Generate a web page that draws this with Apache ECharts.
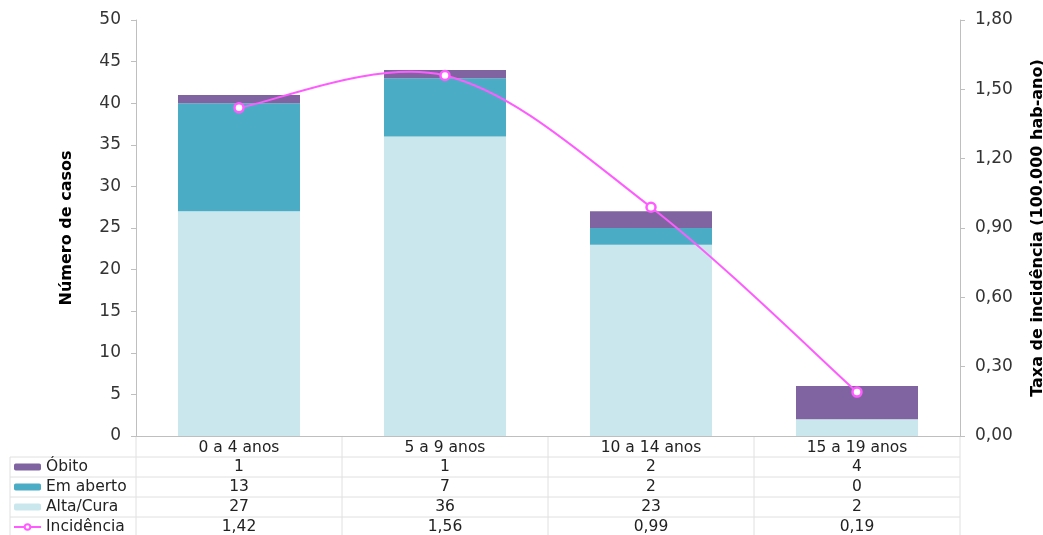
<!DOCTYPE html>
<html><head><meta charset="utf-8">
<script src="https://cdn.jsdelivr.net/npm/echarts@6/dist/echarts.min.js"></script>
<style>html,body{margin:0;padding:0;background:#fff}#c{width:1043px;height:535px}</style>
</head><body><div id="c"></div>
<script>
const categories = ['0 a 4 anos', '5 a 9 anos', '10 a 14 anos', '15 a 19 anos'];
const obito = [1, 1, 2, 4];
const emAberto = [13, 7, 2, 0];
const altaCura = [27, 36, 23, 2];
const incidencia = [1.42, 1.56, 0.99, 0.19];

const FONT = 'DejaVu Sans';
const colors = { obito: '#8064A2', aberto: '#4BACC6', alta: '#CBE7EE', inc: '#FF5CFF' };
const fmt2 = v => v.toFixed(2).replace('.', ',');

const chart = echarts.init(document.getElementById('c'));
const gridL = 136, gridR = 83, gridT = 20, gridB = 99;
const rowH = 20, tableTop = 457;
const TFS = 15.5;

// Excel-like (Catmull-Rom) smoothed curve, drawn through the axis scales
function renderCurve(params, api) {
  const i = params.dataIndex, n = incidencia.length;
  if (i >= n - 1) return { type: 'group', children: [] };
  const P = k => api.coord([Math.max(0, Math.min(n - 1, k)), incidencia[Math.max(0, Math.min(n - 1, k))]]);
  const p0 = P(i - 1), p1 = P(i), p2 = P(i + 1), p3 = P(i + 2);
  return {
    type: 'bezierCurve',
    shape: {
      x1: p1[0], y1: p1[1], x2: p2[0], y2: p2[1],
      cpx1: p1[0] + (p2[0] - p0[0]) / 6, cpy1: p1[1] + (p2[1] - p0[1]) / 6,
      cpx2: p2[0] - (p3[0] - p1[0]) / 6, cpy2: p2[1] - (p3[1] - p1[1]) / 6
    },
    style: { stroke: colors.inc, lineWidth: 2, fill: null }
  };
}

const option = {
  animation: false,
  textStyle: { fontFamily: FONT },
  grid: { left: gridL, right: gridR, top: gridT, bottom: gridB, containLabel: false, outerBoundsMode: 'none' },
  legend: {
    orient: 'vertical', left: 13, top: tableTop, height: 90, padding: 0, itemGap: 0,
    itemWidth: 27, itemHeight: 7,
    textStyle: { fontFamily: FONT, fontSize: TFS, color: '#222', lineHeight: rowH },
    data: ['Óbito', 'Em aberto', 'Alta/Cura',
      { name: 'Incidência', lineStyle: { color: colors.inc, width: 2, opacity: 1 } }]
  },
  xAxis: {
    type: 'category', data: categories,
    axisLine: { lineStyle: { color: '#BFBFBF' } },
    axisTick: { show: false },
    axisLabel: { fontFamily: FONT, fontSize: TFS, color: '#222', margin: 4 }
  },
  yAxis: [
    {
      type: 'value', min: 0, max: 50, interval: 5,
      name: 'Número de casos', nameLocation: 'middle', nameGap: 61, nameRotate: 90,
      nameTextStyle: { fontFamily: FONT, fontSize: 16, fontWeight: 'bold', color: '#000' },
      axisLine: { show: true, lineStyle: { color: '#BFBFBF' } },
      axisTick: { show: true, length: 5, lineStyle: { color: '#BFBFBF' } },
      axisLabel: { fontFamily: FONT, fontSize: 17, color: '#333', margin: 15 },
      splitLine: { show: false }
    },
    {
      type: 'value', min: 0, max: 1.8, interval: 0.3, position: 'right',
      name: 'Taxa de incidência (100.000 hab-ano)', nameLocation: 'middle', nameGap: 70, nameRotate: 90,
      nameTextStyle: { fontFamily: FONT, fontSize: 16, fontWeight: 'bold', color: '#000' },
      axisLine: { show: true, lineStyle: { color: '#BFBFBF' } },
      axisTick: { show: true, length: 5, lineStyle: { color: '#BFBFBF' } },
      axisLabel: { fontFamily: FONT, fontSize: 17, color: '#333', margin: 15, formatter: fmt2 },
      splitLine: { show: false }
    }
  ],
  series: [
    { name: 'Alta/Cura', type: 'bar', stack: 'a', data: altaCura, barWidth: 122, itemStyle: { color: colors.alta } },
    { name: 'Em aberto', type: 'bar', stack: 'a', data: emAberto, itemStyle: { color: colors.aberto } },
    { name: 'Óbito', type: 'bar', stack: 'a', data: obito, itemStyle: { color: colors.obito } },
    {
      name: 'curva', type: 'custom', yAxisIndex: 1, data: incidencia, renderItem: renderCurve,
      z: 4, silent: true
    },
    {
      name: 'Incidência', type: 'line', yAxisIndex: 1, data: incidencia,
      symbol: 'circle', symbolSize: 9,
      lineStyle: { color: colors.inc, width: 2, opacity: 0 },
      itemStyle: { color: '#fff', borderColor: colors.inc, borderWidth: 2.5 },
      z: 5
    }
  ]
};
chart.setOption(option);

// Data table below the plot
const rows = [obito, emAberto, altaCura, incidencia.map(fmt2)];
const W = 1043, H = 535;
const x0 = gridL, x1 = W - gridR, yAxisY = H - gridB;
const lineStyle = { stroke: '#E0E0E0', lineWidth: 1 };
const els = [];
for (let r = 0; r < rows.length; r++) {
  const y = tableTop + r * rowH;
  els.push({ type: 'line', shape: { x1: 10, y1: y, x2: x1, y2: y }, style: lineStyle, silent: true });
}
const step = (x1 - x0) / categories.length;
for (let i = 0; i <= categories.length; i++) {
  const x = x0 + i * step;
  els.push({ type: 'line', shape: { x1: x, y1: yAxisY, x2: x, y2: H }, style: lineStyle, silent: true });
}
els.push({ type: 'line', shape: { x1: 10, y1: tableTop, x2: 10, y2: H }, style: lineStyle, silent: true });
rows.forEach((vals, r) => {
  vals.forEach((v, i) => {
    const cx = chart.convertToPixel({ xAxisIndex: 0 }, categories[i]);
    els.push({
      type: 'text', x: cx, y: tableTop + r * rowH + rowH / 2, silent: true,
      style: { text: String(v), fill: '#222', font: TFS + 'px "' + FONT + '"', align: 'center', verticalAlign: 'middle' }
    });
  });
});
chart.setOption({ graphic: { elements: els } });
</script>
</body></html>
